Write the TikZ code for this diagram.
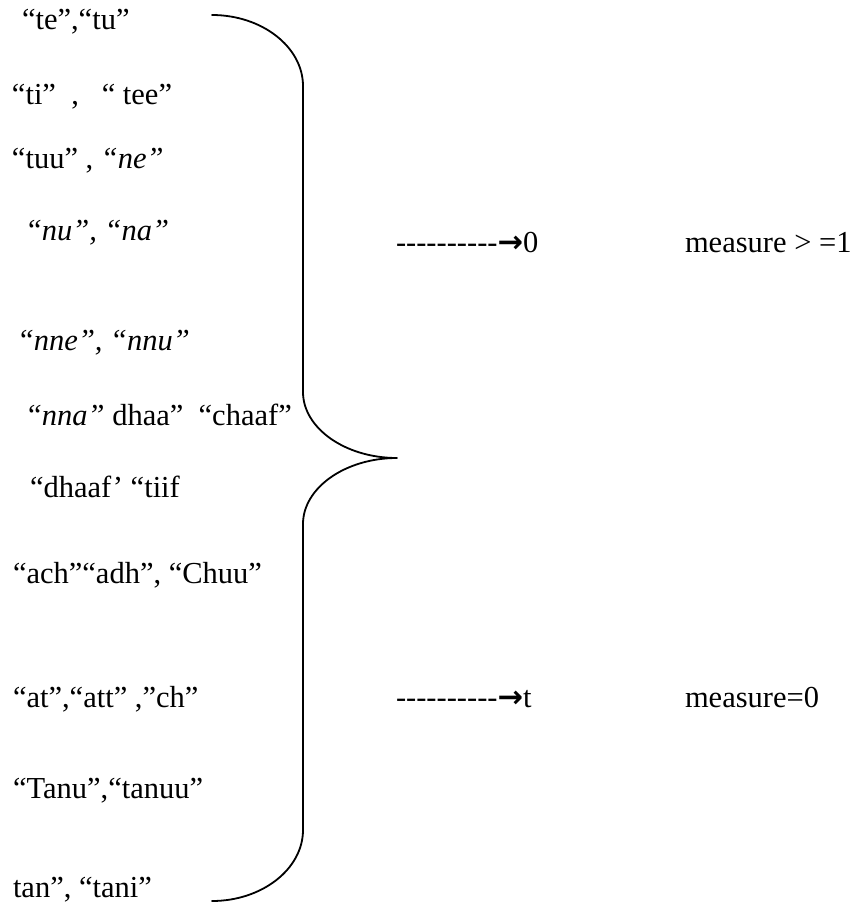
\documentclass[tikz,border=0pt]{standalone}
\usepackage{fontspec}
\setmainfont{Liberation Serif}
\newfontfamily\arrowfont{DejaVu Sans}
\newcommand\hy{\mbox{-}}
\newcommand\dashrun{\hy\hy\hy\hy\hy\hy\hy\hy\hy\hy}
\begin{document}
\begin{tikzpicture}[x=1pt,y=-1pt,
  row/.style={anchor=base west, inner sep=0pt, outer sep=0pt, font=\fontsize{30.5}{36}\selectfont},
  brace/.style={line width=1.8pt, line join=round, line cap=round}]
\useasboundingbox (0,0) rectangle (859,905);
% left column
\node[row] (r1)  at (22,29)  {“te”,“tu”};
\node[row] (r2)  at (12,104) {“ti”~~,~~~“~tee”};
\node[row] (r3)  at (12,168) {“tuu” , \textit{“ne”}};
\node[row] (r4)  at (25,240) {\textit{“nu”, “na”}};
\node[row] (r5)  at (17,350) {\textit{“nne”, “nnu”}};
\node[row] (r6)  at (25,425) {\textit{“nna”} dhaa”~~“chaaf”};
\node[row] (r7)  at (30,497) {“dhaaf’ “tiif};
\node[row] (r8)  at (13,583) {“ach”“adh”, “Chuu”};
\node[row] (r9)  at (13,707) {“at”,“att” ,”ch”};
\node[row] (r10) at (13,798) {“Tanu”,“tanuu”};
\node[row] (r11) at (13,897) {tan”, “tani”};
% brace
\coordinate (btop) at (212,15);
\coordinate (bup) at (303,86);
\coordinate (bmid1) at (303,392);
\coordinate (tip) at (397,458);
\coordinate (bmid2) at (303,524);
\coordinate (blow) at (303,830);
\coordinate (bbot) at (212,901);
\draw[brace] (btop) .. controls (262,15) and (303,47) .. (bup)
  -- (bmid1) .. controls (303,428) and (345,458) .. (tip)
  .. controls (345,458) and (303,488) .. (bmid2)
  -- (blow) .. controls (303,869) and (262,901) .. (bbot);
% right side
\node[row] (a1) at (396,252) {\dashrun{\arrowfont\bfseries →}0};
\node[row] (m1) at (685,252) {measure > =1};
\node[row] (a2) at (396,707) {\dashrun{\arrowfont\bfseries →}t};
\node[row] (m2) at (685,707) {measure=0};
\end{tikzpicture}
\end{document}
